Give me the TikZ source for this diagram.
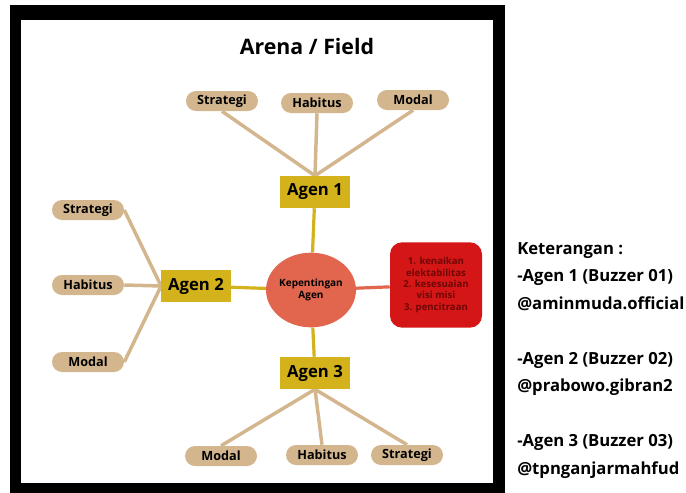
\documentclass[tikz,border=0pt]{standalone}
\usepackage{fontspec}
\setmainfont{Open Sans}
\usetikzlibrary{shapes.geometric,backgrounds}
\definecolor{gold}{HTML}{D4B21C}
\definecolor{tan}{HTML}{D3B68E}
\definecolor{coral}{HTML}{E2654E}
\definecolor{merah}{HTML}{D41616}
\definecolor{tuamerah}{HTML}{6E0606}
\tikzset{
  pill/.style={rectangle,rounded corners=7.5pt,fill=tan,minimum width=54pt,minimum height=15pt,inner sep=0pt,font=\fontsize{9.5}{11}\selectfont\bfseries},
  agen/.style={rectangle,fill=gold,minimum width=52pt,minimum height=24pt,inner sep=0pt,font=\fontsize{12.5}{14}\selectfont\bfseries},
  tanline/.style={draw=tan,line width=2.6pt},
  goldline/.style={draw=gold,line width=2.4pt},
}
\begin{document}
\begin{tikzpicture}[x=0.75pt,y=-0.75pt]
\useasboundingbox (0,0) rectangle (686,493);

% pusat
\node at (311,290) [ellipse,fill=coral,minimum width=61pt,minimum height=56pt,inner sep=0pt,align=center,font=\fontsize{7.5}{9.5}\selectfont\bfseries] (kepentingan) {Kepentingan\\Agen};
\node at (436,285) [rectangle,rounded corners=9pt,fill=merah,minimum width=69pt,minimum height=64pt,inner sep=0pt,align=center,text=tuamerah,font=\fontsize{7.2}{8.6}\selectfont\bfseries] (tujuan) {1. kenaikan\\elektabilitas\\2. kesesuaian\\visi misi\\3. pencitraan};

% agen
\node at (315,192) [agen] (agen1) {Agen 1};
\node at (196,286) [agen] (agen2) {Agen 2};
\node at (315,373) [agen] (agen3) {Agen 3};

% atas
\node at (222,101) [pill] (strategi1) {Strategi};
\node at (317,103) [pill] (habitus1) {Habitus};
\node at (413,100) [pill] (modal1) {Modal};

% kiri
\node at (88,210) [pill] (strategi2) {Strategi};
\node at (88,285) [pill] (habitus2) {Habitus};
\node at (88,362) [pill] (modal2) {Modal};

% bawah
\node at (221,456) [pill] (modal3) {Modal};
\node at (322,455) [pill] (habitus3) {Habitus};
\node at (407,455) [pill] (strategi3) {Strategi};

\node at (307,46) [font=\fontsize{16}{19}\selectfont\bfseries] (judul) {Arena / Field};

\node at (517,242) [anchor=north west,inner sep=0pt,align=left,font=\fontsize{12.5}{20.6}\selectfont\bfseries] (keterangan) {Keterangan :\\-Agen 1 (Buzzer 01)\\@aminmuda.official\\[20.8pt]-Agen 2 (Buzzer 02)\\@prabowo.gibran2\\[20.8pt]-Agen 3 (Buzzer 03)\\@tpnganjarmahfud};

\begin{pgfonlayer}{background}
\fill[black] (10,5) rectangle (505,493);
\fill[white] (21,20) rectangle (493,483);

\draw[tanline] (strategi1.south) -- (agen1.north);
\draw[tanline] (habitus1.south) -- (agen1.north);
\draw[tanline] (modal1.south) -- (agen1.north);

\draw[tanline] (strategi2.east) -- (agen2.west);
\draw[tanline] (habitus2.east) -- (agen2.west);
\draw[tanline] (modal2.east) -- (agen2.west);

\draw[tanline] (agen3.south) -- (modal3.north);
\draw[tanline] (agen3.south) -- (habitus3.north);
\draw[tanline] (agen3.south) -- (strategi3.north);

\draw[goldline] (agen1) -- (kepentingan);
\draw[goldline] (agen2) -- (kepentingan);
\draw[goldline] (agen3) -- (kepentingan);
\draw[draw=coral,line width=2.4pt] (kepentingan) -- (tujuan);
\end{pgfonlayer}
\end{tikzpicture}
\end{document}
